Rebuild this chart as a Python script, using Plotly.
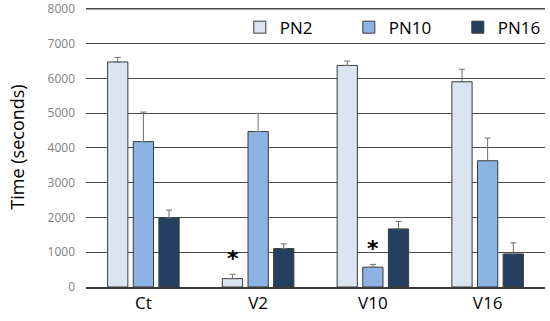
import plotly.graph_objects as go

categories = ["Ct", "V2", "V10", "V16"]
series_names = ["PN2", "PN10", "PN16"]
pn2 = [6470, 240, 6370, 5900]
pn2_err = [130, 125, 125, 360]
pn10 = [4180, 4470, 570, 3630]
pn10_err = [850, 520, 80, 650]
pn16 = [1990, 1105, 1670, 950]
pn16_err = [220, 135, 215, 320]
y_ticks = [0, 1000, 2000, 3000, 4000, 5000, 6000, 7000, 8000]

colors = ["#dbe5f1", "#8db3e2", "#243f60"]
values = [pn2, pn10, pn16]
errors = [pn2_err, pn10_err, pn16_err]

fig = go.Figure()
for name, vals, errs, col in zip(series_names, values, errors, colors):
    fig.add_trace(go.Bar(
        x=categories, y=vals, name=name,
        marker=dict(color=col, line=dict(color="#3a3a3a", width=1)),
        error_y=dict(type="data", array=errs, arrayminus=[0] * len(errs),
                     symmetric=False, color="#6e6e6e", thickness=1, width=3),
    ))

# significance asterisks
fig.add_annotation(x="V2", y=pn2[1] + pn2_err[1], xshift=-25.4, yshift=1,
                   text="<b>*</b>", showarrow=False, yanchor="bottom",
                   font=dict(size=22, color="black", family="DejaVu Sans"))
fig.add_annotation(x="V10", y=pn10[2] + pn10_err[2], xshift=0, yshift=1,
                   text="<b>*</b>", showarrow=False, yanchor="bottom",
                   font=dict(size=22, color="black", family="DejaVu Sans"))

# top gridline (plotly drops gridlines sitting at the range edge)
fig.add_shape(type="line", xref="paper", x0=0, x1=1, yref="y",
              y0=y_ticks[-1], y1=y_ticks[-1], layer="below",
              line=dict(color="#4a4a4a", width=1.3))

fig.update_layout(
    width=550, height=321,
    margin=dict(l=86, r=5, t=7, b=34, autoexpand=False),
    paper_bgcolor="white", plot_bgcolor="white",
    barmode="group", bargap=0.33, bargroupgap=0.21,
    font=dict(family="Open Sans", color="black"),
    showlegend=True,
    legend=dict(orientation="h", xref="container", yref="container",
                x=0.436, y=0.97, xanchor="left", yanchor="top",
                bgcolor="rgba(0,0,0,0)", font=dict(size=17, color="black"),
                entrywidth=64, entrywidthmode="pixels", traceorder="normal",
                tracegroupgap=0, itemwidth=30),
    xaxis=dict(showline=True, linecolor="#3a3a3a", linewidth=1.5, automargin=False,
               tickfont=dict(size=17, color="black"), ticks=""),
    yaxis=dict(range=[0, 8050], tickvals=y_ticks, showgrid=True, automargin=False,
               gridcolor="#4a4a4a", gridwidth=1.3, zeroline=False,
               showline=False, ticks="", ticklabelstandoff=10,
               ticklabeloverflow="allow",
               tickfont=dict(size=12, color="#7f7f7f"),
               title=dict(text="Time (seconds)", font=dict(size=18, color="black"), standoff=18)),
)

fig.write_html("out.html", config={"displayModeBar": False},
               post_script="document.body.style.margin='0';")
